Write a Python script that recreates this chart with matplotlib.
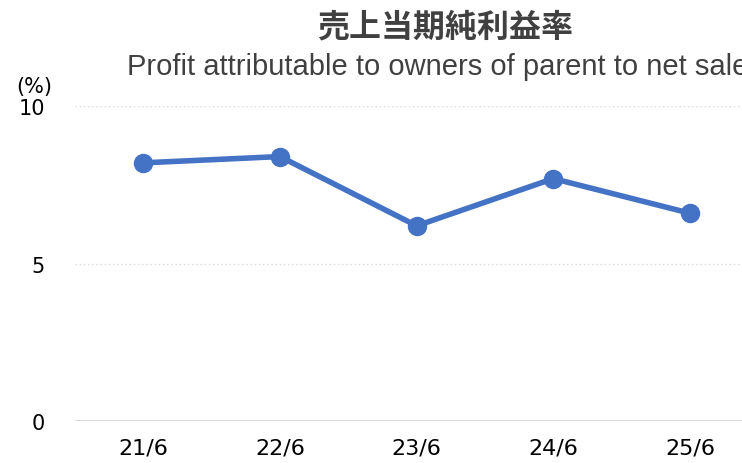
import matplotlib
matplotlib.use('Agg')
import matplotlib.pyplot as plt

# data
periods = ['21/6', '22/6', '23/6', '24/6', '25/6']
ratio = [8.2, 8.4, 6.2, 7.7, 6.6]

title_jp = '売上当期純利益率'
title_en = 'Profit attributable to owners of parent to net sales'

line_color = '#4472C4'
text_color = '#404040'
grid_color = '#d9d9d9'


def main():
    fig = plt.figure(figsize=(7.42, 4.64), dpi=100)
    # axes runs past the right edge, like the original
    ax = fig.add_axes([0.101, 0.0905, 0.921, 0.6785])

    x = list(range(len(periods)))
    ax.plot(x, ratio, color=line_color, linewidth=4, marker='o', markersize=13,
            solid_capstyle='round', clip_on=False, zorder=3)

    ax.set_xlim(-0.5, len(periods) - 0.5)
    ax.set_ylim(0, 10)
    ax.set_yticks([0, 5, 10])
    ax.set_xticks(x)
    ax.set_xticklabels(periods)

    for y in [5, 10]:
        ax.axhline(y, color=grid_color, linestyle=(0, (1, 2)), linewidth=1, zorder=1)
    ax.axhline(0, color=grid_color, linewidth=2, zorder=1)

    for s in ax.spines.values():
        s.set_visible(False)
    ax.tick_params(axis='both', length=0, labelcolor='black')
    ax.tick_params(axis='x', labelsize=16, pad=12)
    ax.tick_params(axis='y', labelsize=15, pad=21.5)

    fig.text(34 / 742, 1 - 86.5 / 464, '(%)', fontsize=15, ha='center', va='center')

    fig.text(445 / 742, 1 - 27.5 / 464, title_jp, fontsize=23, fontweight='bold',
             color=text_color, ha='center', va='center',
             family=['Noto Sans CJK JP', 'DejaVu Sans'])
    fig.text(127 / 742, 1 - 75 / 464, title_en, fontsize=21, color=text_color,
             ha='left', va='baseline', family='Liberation Sans')

    fig.savefig('out.png', dpi=100)
    plt.close(fig)


main()
